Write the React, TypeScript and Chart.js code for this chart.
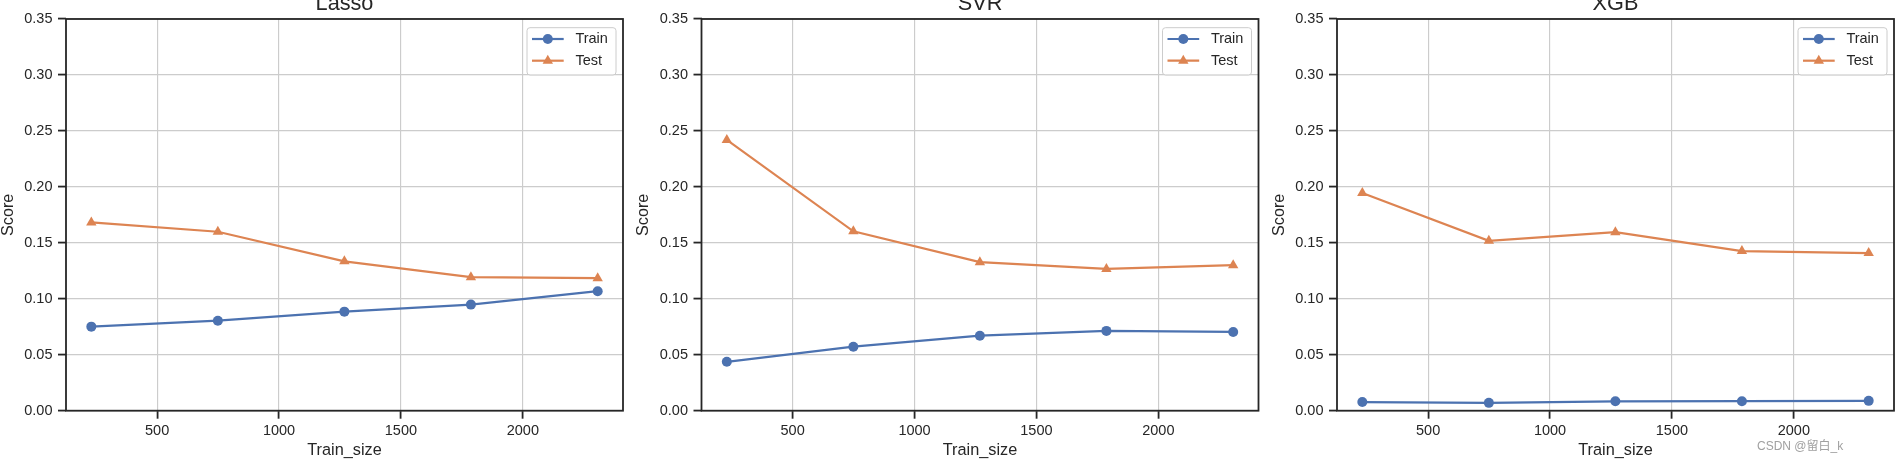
import React, { useEffect, useRef } from 'react';
import { Chart, registerables } from 'chart.js';

Chart.register(...registerables);

// ---------------- data ----------------
const trainSizes = [230, 749, 1268, 1787, 2307];
const modelNames = ['Lasso', 'SVR', 'XGB'];
const seriesLabels = ['Train', 'Test'];

const lassoTrain = [0.0751, 0.0804, 0.0885, 0.0948, 0.1068];
const lassoTest = [0.1682, 0.1599, 0.1335, 0.1193, 0.1184];
const svrTrain = [0.0437, 0.0572, 0.067, 0.0713, 0.0704];
const svrTest = [0.2419, 0.1603, 0.1327, 0.1267, 0.13];
const xgbTrain = [0.0077, 0.007, 0.0084, 0.0085, 0.0088];
const xgbTest = [0.1945, 0.1518, 0.1595, 0.1426, 0.1408];

const xTickValues = [500, 1000, 1500, 2000];
const yTickValues = [0, 0.05, 0.1, 0.15, 0.2, 0.25, 0.3, 0.35];
const yMin = 0;
const yMax = 0.35;
const xLabel = 'Train_size';
const yLabel = 'Score';
const watermarkText = 'CSDN @留白_k';

// ---------------- styles / layout ----------------
const FONT = "Arial, 'Liberation Sans', Helvetica, sans-serif";
const TEXT = '#262626';
const GRID = '#cccccc';
const BLUE = '#4C72B0';
const ORANGE = '#DD8452';

const PLOT_LEFTS = [66, 701.5, 1337];
const PLOT_W = 557;
const PLOT_TOP = 19;
const PLOT_BOTTOM = 410.7;
const CANVAS_TOP = -20;
const CANVAS_H = 483;
const RIGHT_PAD = 10;

const TICK_FONT = 14.5;
const LABEL_FONT = 16.3;
const TITLE_FONT = 21.7;

function drawMarker(ctx: CanvasRenderingContext2D, style: string, x: number, y: number, r: number) {
  ctx.beginPath();
  if (style === 'triangle') {
    let rad = 0;
    ctx.moveTo(x + Math.sin(rad) * r, y - Math.cos(rad) * r);
    rad += (2 * Math.PI) / 3;
    ctx.lineTo(x + Math.sin(rad) * r, y - Math.cos(rad) * r);
    rad += (2 * Math.PI) / 3;
    ctx.lineTo(x + Math.sin(rad) * r, y - Math.cos(rad) * r);
    ctx.closePath();
  } else {
    ctx.arc(x, y, r, 0, Math.PI * 2);
  }
  ctx.fill();
}

const frameLegendPlugin = {
  id: 'frameLegend',
  afterDatasetsDraw(chart: any) {
    const { ctx, chartArea: ca } = chart;
    ctx.save();
    ctx.strokeStyle = TEXT;
    ctx.lineWidth = 1.8;
    ctx.strokeRect(ca.left, ca.top, ca.right - ca.left, ca.bottom - ca.top);
    ctx.restore();
  },
  afterDraw(chart: any) {
    const { ctx, chartArea: ca } = chart;
    ctx.save();
    const bx = ca.right - 96;
    const by = ca.top + 8.7;
    const bw = 89;
    const bh = 47.3;
    const rr = 3;
    ctx.beginPath();
    ctx.moveTo(bx + rr, by);
    ctx.lineTo(bx + bw - rr, by);
    ctx.arcTo(bx + bw, by, bx + bw, by + rr, rr);
    ctx.lineTo(bx + bw, by + bh - rr);
    ctx.arcTo(bx + bw, by + bh, bx + bw - rr, by + bh, rr);
    ctx.lineTo(bx + rr, by + bh);
    ctx.arcTo(bx, by + bh, bx, by + bh - rr, rr);
    ctx.lineTo(bx, by + rr);
    ctx.arcTo(bx, by, bx + rr, by, rr);
    ctx.closePath();
    ctx.fillStyle = 'rgba(255,255,255,0.8)';
    ctx.fill();
    ctx.strokeStyle = GRID;
    ctx.lineWidth = 1;
    ctx.stroke();

    chart.data.datasets.forEach((ds: any, i: number) => {
      const cy = ca.top + 20 + i * 21.7;
      ctx.strokeStyle = ds.borderColor;
      ctx.lineWidth = ds.borderWidth;
      ctx.beginPath();
      ctx.moveTo(ca.right - 91, cy);
      ctx.lineTo(ca.right - 59.3, cy);
      ctx.stroke();
      ctx.fillStyle = ds.borderColor;
      drawMarker(ctx, ds.pointStyle, ca.right - 75.2, cy, ds.pointRadius);
      ctx.fillStyle = TEXT;
      ctx.font = `${TICK_FONT}px ${FONT}`;
      ctx.textAlign = 'left';
      ctx.textBaseline = 'middle';
      ctx.fillText(ds.label, ca.right - 47.6, cy);
    });
    ctx.restore();
  },
};

type PanelProps = { title: string; train: number[]; test: number[]; plotLeft: number };

function Panel({ title, train, test, plotLeft }: PanelProps) {
  const ref = useRef<HTMLCanvasElement>(null);
  const cLeft = Math.floor(plotLeft - 67);
  const yw = plotLeft - cLeft;
  const cw = Math.ceil(yw + PLOT_W + RIGHT_PAD);

  useEffect(() => {
    if (!ref.current) return;
    const xmin = Math.min(...trainSizes);
    const xmax = Math.max(...trainSizes);
    const margin = 0.05 * (xmax - xmin);
    const titleLH = TITLE_FONT * 1.2;
    const titleTopPad = 11.1;
    const titleBottomPad = PLOT_TOP - CANVAS_TOP - titleTopPad - titleLH;

    const chart = new Chart(ref.current, {
      type: 'line',
      data: {
        datasets: [
          {
            label: seriesLabels[0],
            data: trainSizes.map((x, i) => ({ x, y: train[i] })),
            borderColor: BLUE,
            backgroundColor: BLUE,
            pointBackgroundColor: BLUE,
            borderWidth: 2.2,
            pointStyle: 'circle',
            pointRadius: 5,
            pointBorderWidth: 0,
            tension: 0,
          },
          {
            label: seriesLabels[1],
            data: trainSizes.map((x, i) => ({ x, y: test[i] })),
            borderColor: ORANGE,
            backgroundColor: ORANGE,
            pointBackgroundColor: ORANGE,
            borderWidth: 2.2,
            pointStyle: 'triangle',
            pointRadius: 6,
            pointBorderWidth: 0,
            tension: 0,
          },
        ],
      } as any,
      options: {
        responsive: false,
        animation: false,
        layout: { padding: { left: 0, top: 0, bottom: 0, right: cw - yw - PLOT_W } },
        plugins: {
          legend: { display: false },
          tooltip: { enabled: false },
          title: {
            display: true,
            text: title,
            fullSize: false,
            color: TEXT,
            font: { family: FONT, size: TITLE_FONT, weight: 'normal' },
            padding: { top: titleTopPad, bottom: titleBottomPad },
          },
        },
        scales: {
          x: {
            type: 'linear',
            position: 'bottom',
            min: xmin - margin,
            max: xmax + margin,
            afterBuildTicks: (s: any) => {
              s.ticks = xTickValues.map((v) => ({ value: v }));
            },
            afterFit: (s: any) => {
              s.height = CANVAS_H - (PLOT_BOTTOM - CANVAS_TOP);
            },
            ticks: {
              autoSkip: false,
              maxRotation: 0,
              color: TEXT,
              padding: 4,
              font: { family: FONT, size: TICK_FONT },
              callback: (v: any) => String(v),
            },
            grid: { color: GRID, lineWidth: 1.16, tickColor: TEXT, tickWidth: 1.8, tickLength: 8, drawTicks: true },
            border: { display: false },
            title: {
              display: true,
              text: xLabel,
              color: TEXT,
              font: { family: FONT, size: LABEL_FONT },
              padding: { top: 0, bottom: 3.2 },
            },
          },
          y: {
            type: 'linear',
            position: 'left',
            min: yMin,
            max: yMax,
            afterBuildTicks: (s: any) => {
              s.ticks = yTickValues.map((v) => ({ value: v }));
            },
            afterFit: (s: any) => {
              s.width = yw;
            },
            ticks: {
              autoSkip: false,
              color: TEXT,
              padding: 5.5,
              font: { family: FONT, size: TICK_FONT },
              callback: (v: any) => Number(v).toFixed(2),
            },
            grid: { color: GRID, lineWidth: 1.16, tickColor: TEXT, tickWidth: 1.8, tickLength: 8, drawTicks: true },
            border: { display: false },
            title: {
              display: true,
              text: yLabel,
              color: TEXT,
              font: { family: FONT, size: LABEL_FONT },
              padding: { top: 0, bottom: 0 },
            },
          },
        },
      } as any,
      plugins: [frameLegendPlugin as any],
    });
    return () => chart.destroy();
  }, [title, train, test, plotLeft]);

  return (
    <div style={{ position: 'absolute', left: cLeft, top: CANVAS_TOP, width: cw, height: CANVAS_H }}>
      <canvas ref={ref} width={cw} height={CANVAS_H} style={{ width: cw, height: CANVAS_H, display: 'block' }} />
    </div>
  );
}

export default function App() {
  const trains = [lassoTrain, svrTrain, xgbTrain];
  const tests = [lassoTest, svrTest, xgbTest];
  return (
    <div
      style={{
        position: 'fixed',
        left: 0,
        top: 0,
        width: 1901,
        height: 463,
        overflow: 'hidden',
        background: '#ffffff',
      }}
    >
      {modelNames.map((name, i) => (
        <Panel key={name} title={name} train={trains[i]} test={tests[i]} plotLeft={PLOT_LEFTS[i]} />
      ))}
      <div
        style={{
          position: 'absolute',
          left: 1757,
          top: 438,
          fontSize: 12,
          lineHeight: '16px',
          color: '#a0a0a0',
          whiteSpace: 'nowrap',
          fontFamily: "Arial, 'Liberation Sans', 'Noto Sans CJK SC', sans-serif",
        }}
      >
        {watermarkText}
      </div>
    </div>
  );
}
